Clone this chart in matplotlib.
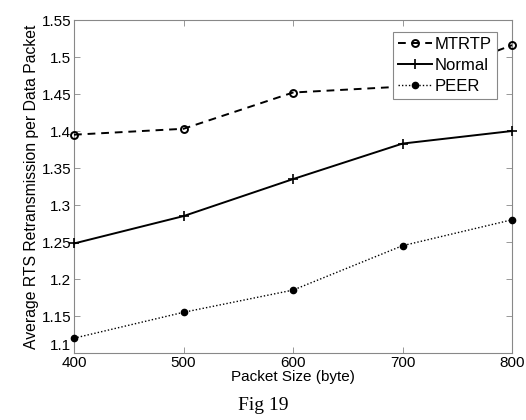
import numpy as np
import matplotlib
matplotlib.use('Agg')
import matplotlib.pyplot as plt
import matplotlib.transforms as mtransforms
from matplotlib.ticker import FuncFormatter

plt.rcParams['font.family'] = ['Liberation Sans', 'DejaVu Sans']

packet_size = [400, 500, 600, 700, 800]
mtrtp = [1.395, 1.403, 1.452, 1.46, 1.516]
normal = [1.248, 1.285, 1.335, 1.383, 1.400]
peer = [1.120, 1.155, 1.185, 1.245, 1.280]

x_ticks = [400, 500, 600, 700, 800]
y_ticks = [1.1, 1.15, 1.2, 1.25, 1.3, 1.35, 1.4, 1.45, 1.5, 1.55]

fig = plt.figure(figsize=(5.26, 4.2), dpi=100)
ax = fig.add_axes([74 / 526, 1 - 353 / 420, (512 - 74) / 526, (353 - 20) / 420])

ax.plot(packet_size, mtrtp, color='black', linestyle=(0, (4, 3)), linewidth=1.4,
        marker='o', markersize=5, markerfacecolor='none', markeredgewidth=1.4,
        label='MTRTP', clip_on=False, zorder=3)
ax.plot(packet_size, normal, color='black', linestyle='-', linewidth=1.4,
        marker='+', markersize=7, markeredgewidth=1.2,
        label='Normal', clip_on=False, zorder=3)
ax.plot(packet_size, peer, color='black', linestyle=(0, (1, 1.5)), linewidth=1.0,
        marker='o', markersize=4.5, markerfacecolor='black',
        label='PEER', clip_on=False, zorder=3)

ax.set_xlim(400, 800)
ax.set_ylim(1.1, 1.55)
ax.set_xticks(x_ticks)
ax.set_yticks(y_ticks)
ax.yaxis.set_major_formatter(FuncFormatter(lambda v, p: f"{v:g}"))
ax.tick_params(direction='in', length=4, width=0.6, top=True, right=True,
               labelsize=11, color='#888888', pad=2)

# lift the lowest y label a little, MATLAB style
fig.canvas.draw()
ylabels = ax.get_yticklabels()
ylabels[0].set_transform(ylabels[0].get_transform() +
                         mtransforms.ScaledTranslation(0, 6 / 72, fig.dpi_scale_trans))

for sp in ax.spines.values():
    sp.set_color('#888888')
    sp.set_linewidth(0.8)

ax.set_xlabel('Packet Size (byte)', fontsize=11, labelpad=0)
ax.set_ylabel('Average RTS Retransmission per Data Packet', fontsize=11.3, labelpad=2)

leg = ax.legend(loc='upper right', bbox_to_anchor=(0.966, 0.964), fontsize=12,
                frameon=True, fancybox=False, framealpha=1, handlelength=2.0,
                handletextpad=0.2, borderpad=0.3, labelspacing=0.35, borderaxespad=0)
leg.get_frame().set_edgecolor('#888888')
leg.get_frame().set_linewidth(0.8)
leg.set_zorder(5)

fig.text(0.5, 1 - 405 / 420, 'Fig 19', ha='center', va='center', fontsize=14,
         family=['Liberation Serif', 'DejaVu Serif'])

fig.savefig('out.png', dpi=100)
